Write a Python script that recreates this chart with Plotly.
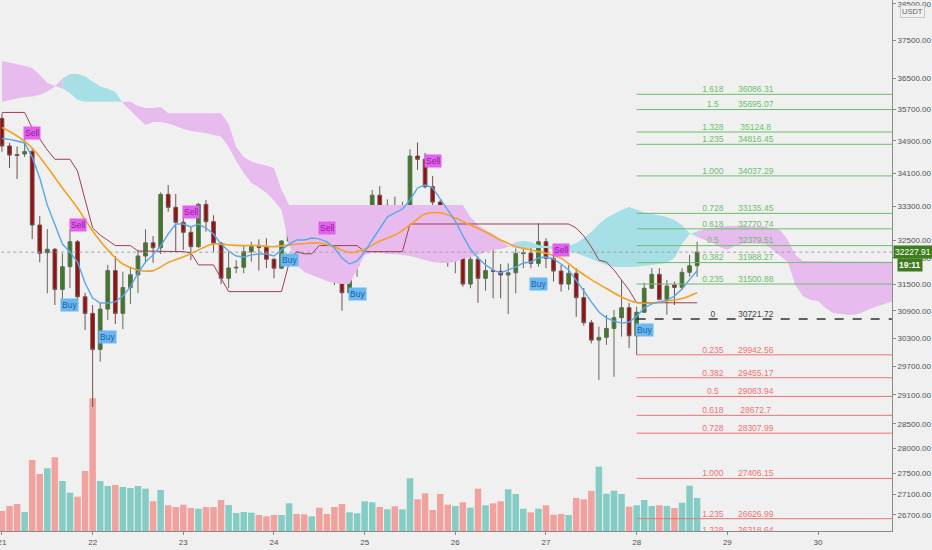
import numpy as np
import pandas as pd
import plotly.graph_objects as go

# 2h candles, 21 Jun 00:00 -> 28 Jun 16:00
open_ = [35470, 34775, 34560, 34575, 34635, 32860, 32215, 32295, 31380, 31895,
         32470, 31215, 30845, 30060, 30940, 31805, 30845, 31420, 31710, 32140,
         32445, 32330, 33590, 33280, 32925, 32690, 32355, 33350, 32940, 32435,
         31630, 31865, 31880, 32240, 32355, 32340, 32065, 31860, 32485, 32860,
         32785, 32625, 32835, 32215, 31950, 31840, 31305, 31915, 32255, 32870,
         33570, 33310, 33325, 32960, 33170, 34525, 34445, 33775, 33405, 32705,
         32240, 32760, 31500, 32065, 31630, 31805, 31790, 31705, 31755, 32195,
         32210, 31970, 32470, 32085, 31795, 31500, 31745, 31195, 30640, 30260,
         30320, 30515, 30750, 30970, 30355, 30870, 31405, 31720, 31155, 31480,
         31425, 31765, 31915]
high_ = [35600, 34850, 34760, 35010, 34725, 33075, 32765, 32325, 32200, 32745,
         32510, 31300, 31030, 31075, 31935, 32140, 31780, 31895, 32280, 32760,
         32605, 33640, 33815, 33600, 33095, 32820, 33385, 33455, 33095, 32465,
         32240, 32045, 32395, 32470, 32525, 32550, 32095, 32510, 32980, 33055,
         33020, 33020, 32910, 32435, 32085, 31970, 32125, 32355, 32900, 33695,
         33790, 33470, 33535, 33415, 34690, 34865, 34600, 34035, 33455, 32820,
         32820, 32790, 32315, 32125, 32065, 32435, 31955, 31970, 32315, 32415,
         32355, 32900, 32550, 32200, 31935, 31935, 31860, 31410, 30700, 30555,
         30810, 30920, 31590, 31075, 30995, 31530, 31860, 31860, 31590, 31555,
         31860, 32165, 32470]
low_ = [34630, 34230, 33960, 34500, 32530, 31995, 31290, 31030, 31140, 31410,
        31140, 30480, 28845, 29795, 30700, 30610, 30500, 31055, 31300, 32000,
        31985, 32185, 33175, 32240, 32280, 32045, 32325, 32705, 32240, 31500,
        31410, 31745, 31745, 32010, 31805, 31860, 31630, 31840, 32440, 32695,
        32550, 32580, 32085, 31895, 31480, 30905, 31290, 31665, 32230, 32760,
        33175, 33020, 32785, 32725, 33055, 34180, 33735, 33335, 32165, 31895,
        31745, 31440, 31405, 31080, 31350, 31180, 31180, 30830, 31290, 31860,
        31860, 31895, 31860, 31555, 31330, 31365, 30770, 30575, 30190, 29405,
        30155, 29475, 30335, 30085, 29940, 30860, 31390, 31140, 30810, 31030,
        31365, 31665, 31665]
close_ = [34775, 34550, 34540, 34635, 32860, 32200, 32295, 31380, 31895, 32470,
          31215, 30845, 30060, 30940, 31805, 30845, 31420, 31710, 32140, 32445,
          32330, 33590, 33280, 32925, 32690, 32355, 33350, 32940, 32435, 31630,
          31865, 31880, 32240, 32355, 32340, 32065, 31860, 32485, 32860, 32785,
          32625, 32835, 32215, 31950, 31840, 31305, 31915, 32255, 32870, 33570,
          33310, 33325, 32960, 33170, 34525, 34445, 33775, 33405, 32705, 32240,
          32760, 31500, 32065, 31630, 31805, 31790, 31705, 31755, 32195, 32210,
          31970, 32470, 32085, 31795, 31500, 31745, 31195, 30640, 30260, 30320,
          30515, 30750, 30970, 30355, 30870, 31405, 31720, 31155, 31455, 31425,
          31765, 31915, 32227.91]
volume = [2000, 2500, 2700, 1900, 7100, 5700, 6270, 7370, 5000, 3830,
          3430, 6000, 13270, 5000, 4500, 4600, 4400, 4300, 4500, 4230,
          2970, 4100, 2570, 2400, 2630, 2300, 2230, 2400, 2400, 3100,
          2600, 1800, 1900, 1830, 1600, 1470, 1600, 1600, 2770, 1700,
          1670, 1470, 2330, 1700, 2400, 2700, 1870, 1770, 2970, 2870,
          2400, 2170, 2470, 2170, 5270, 3170, 3770, 2100, 3700, 2630,
          2500, 2870, 2330, 4230, 2570, 2770, 2970, 4170, 3700, 2230,
          1870, 2230, 2570, 1630, 1700, 1600, 3300, 3170, 4000, 6430,
          3730, 4030, 3700, 2430, 2570, 3100, 2500, 2570, 2500, 2300,
          2830, 4530, 3300]

# fast average (blue), one value per bar
fast_ma = [34960, 34940, 34900, 34850, 34500, 33985, 33335, 32860, 32415, 32230,
           32000, 31525, 31185, 31075, 31075, 31100, 31230, 31435, 31750, 32000,
           32165, 32370, 32650, 32885, 32885, 32815, 32885, 32790, 32650, 32415,
           32255, 32140, 32115, 32165, 32185, 32185, 32140, 32280, 32415, 32510,
           32510, 32555, 32535, 32465, 32325, 32095, 31955, 32025, 32230, 32510,
           32790, 33050, 33145, 33240, 33455, 33745, 33815, 33745, 33480, 33215,
           32955, 32605, 32300, 32095, 31935, 31820, 31750, 31820, 31885, 31980,
           32000, 32095, 32115, 32070, 31955, 31820, 31590, 31345, 31100, 30875,
           30745, 30675, 30630, 30655, 30785, 30965, 31055, 31100, 31140, 31230,
           31390, 31600, 31800]

# slow average (orange), read every second bar
slow_bar = list(range(0, 93, 2))
slow_ma = [35240, 35025, 34725, 34255, 33745, 33265, 32720, 32280, 31955, 31820,
           31805, 31990, 32115, 32280, 32415, 32395, 32380, 32380, 32355, 32395,
           32430, 32440, 32350, 32220, 32300, 32485, 32625, 32860, 33120, 33150,
           33025, 32860, 32695, 32510, 32360, 32280, 32200, 32085, 31830, 31600,
           31400, 31210, 31085, 31075, 31120, 31175, 31305]

# base line (dark red), bars where it turns
kijun_bar = [0, 3, 4, 6, 7, 9, 10, 12, 13, 14, 15, 17, 18, 24, 25, 26, 28, 30, 37, 38,
             39, 40, 41, 42, 47, 48, 53, 54, 75, 76, 77, 78, 79, 80, 81, 82, 83, 84, 92]
kijun_val = [35620, 35620, 35225, 34675, 34445, 34445, 34155, 32790, 32625, 32510,
             32380, 32380, 32255, 32240, 32210, 31935, 31935, 31330, 31330, 31980,
             32240, 32190, 32190, 32380, 32380, 32240, 32240, 32885, 32885, 32790,
             32605, 32350, 32045, 32000, 31820, 31590, 31365, 31080, 31080]

# cloud spans, shifted 26 bars forward
span_a = [35895, 35939, 35991, 36017, 36030, 36069, 36159, 36289, 36497, 36615,
          36615, 36550, 36419, 36289, 36237, 36146, 35862, 35658, 35479, 35302,
          35377, 35377, 35339, 35276, 35200, 35150, 35125, 35100, 35050, 35012,
          34750, 34403, 34109, 33864, 33756, 33623, 33443, 33216, 32394, 31933,
          31773, 31705, 31636, 31568, 31523, 31501, 31501, 31819, 32163, 32209,
          32209, 32186, 32186, 32163, 32139, 32093, 32047, 32001, 31978, 31978,
          32001, 32070, 32116, 32163, 32232, 32278, 32301, 32348, 32464, 32487,
          32464, 32394, 32371, 32371, 32417, 32371, 32440, 32556, 32696, 32885,
          33026, 33121, 33216, 33288, 33216, 33157, 33121, 33086, 33050, 32979,
          32861, 32673, 32580, 32510, 32440, 32348, 32278, 32371, 32417, 32429,
          32429, 32417, 32278, 32139, 32001, 31478, 31232, 31142, 31120, 30964,
          30854, 30832, 30810, 30821, 30876, 30953, 31009, 31075, 31120]
span_b = [36958, 36918, 36878, 36826, 36773, 36589, 36380, 36302, 36237, 36120,
          35939, 35895, 35895, 35895, 35895, 35895, 35895, 35895, 35785, 35734,
          35734, 35760, 35599, 35599, 35599, 35599, 35599, 35599, 35599, 35599,
          35327, 34750, 34502, 34390, 34329, 34292, 34231, 33695, 33335, 33335,
          33335, 33335, 33335, 33335, 33335, 33335, 33335, 33335, 33335, 33335,
          33335, 33335, 33335, 33335, 33335, 33335, 33335, 33335, 33335, 33335,
          33335, 33335, 33050, 32861, 32743, 32650, 32510, 32371, 32324, 32324,
          32324, 32324, 32324, 32301, 32278, 32255, 32209, 32139, 32070, 32001,
          31933, 31887, 31887, 31887, 31894, 31910, 31933, 31955, 31978, 32093,
          32417, 32650, 32708, 32766, 32790, 32814, 32837, 32837, 32837, 32837,
          32826, 32821, 32790, 32743, 32510, 32163, 32024, 32008, 32008, 32008,
          32008, 32008, 32008, 32008, 32008, 32008, 32008, 32008, 32008]

sell_bars = [4, 10, 25, 43, 57, 74]
buy_bars = [9, 14, 38, 47, 71, 85]

fib_up_ratio = ["1.618", "1.5", "1.328", "1.235", "1.000", "0.728", "0.618", "0.5", "0.382", "0.235"]
fib_up_price = [36086.31, 35695.07, 35124.8, 34816.45, 34037.29, 33135.45, 32770.74, 32379.51, 31988.27, 31500.88]
fib_zero = 30721.72
fib_dn_ratio = ["0.235", "0.382", "0.5", "0.618", "0.728", "1.000", "1.235", "1.328"]
fib_dn_price = [29942.56, 29455.17, 29063.94, 28672.7, 28307.99, 27406.15, 26626.99, 26318.64]

last_price = 32227.91
price_ticks = [38500, 37500, 36500, 35700, 34900, 34100, 33300, 32500, 32100, 31500,
               30900, 30300, 29700, 29100, 28500, 28000, 27500, 27100, 26700]

times = pd.date_range("2021-06-21 00:00", periods=len(close_), freq="2h")
cloud_times = pd.date_range("2021-06-21 00:00", periods=len(span_a), freq="2h")
fib_start, fib_end = pd.Timestamp("2021-06-28 00:00"), pd.Timestamp("2021-07-01 00:00")
ratio_x, price_x = pd.Timestamp("2021-06-28 20:10"), pd.Timestamp("2021-06-29 07:30")

BG = '#f0f0f0'
PINK, CYAN = '#e8bbef', '#a7dfe7'
GREEN_FIB, RED_FIB = '#6cbf6c', '#f07272'
FONT = 'Liberation Sans'

fig = go.Figure()

# volume sits on the hidden base axis so it is drawn behind the price pane
vol_cols = ['#84ccc4' if c >= o else '#f0a29e' for o, c in zip(open_, close_)]
fig.add_trace(go.Bar(x=times, y=volume, marker_color=vol_cols, marker_line_width=0,
                     width=7200000 * 0.86, yaxis='y', hoverinfo='skip'))

# cloud: one filled polygon per run of same-sign spans
a, b = np.array(span_a), np.array(span_b)
bull = a >= b
start = 0
n = len(a)
for k in range(1, n + 1):
    if k == n or bull[k] != bull[start]:
        end = min(k, n - 1)
        xs = list(cloud_times[start:end + 1]) + list(cloud_times[start:end + 1][::-1])
        ys = list(a[start:end + 1]) + list(b[start:end + 1][::-1])
        fig.add_trace(go.Scatter(x=xs, y=ys, yaxis='y2', mode='lines', fill='toself',
                                 fillcolor=CYAN if bull[start] else PINK,
                                 line=dict(width=0), hoverinfo='skip'))
        start = k

# fib levels
def level_lines(prices, color, dash='solid', width=1):
    xs, ys = [], []
    for p in prices:
        xs += [fib_start, fib_end, None]
        ys += [p, p, None]
    fig.add_trace(go.Scatter(x=xs, y=ys, yaxis='y2', mode='lines',
                             line=dict(color=color, width=width, dash=dash), hoverinfo='skip'))

def level_text(ratios, prices, color):
    fig.add_trace(go.Scatter(x=[ratio_x] * len(prices), y=prices, yaxis='y2', mode='text',
                             text=ratios, textposition='top center',
                             textfont=dict(color=color, size=8.5, family=FONT), hoverinfo='skip'))
    fig.add_trace(go.Scatter(x=[price_x] * len(prices), y=prices, yaxis='y2', mode='text',
                             text=[str(p) for p in prices], textposition='top center',
                             textfont=dict(color=color, size=8.5, family=FONT), hoverinfo='skip'))

level_lines(fib_up_price, GREEN_FIB)
level_lines(fib_dn_price, RED_FIB)
level_lines([fib_zero], '#333333', dash='dash', width=1.5)
level_text(fib_up_ratio, fib_up_price, GREEN_FIB)
level_text(fib_dn_ratio, fib_dn_price, RED_FIB)
level_text(["0"], [fib_zero], '#444444')

# last price dotted line
fig.add_trace(go.Scatter(x=[pd.Timestamp("2021-06-20"), pd.Timestamp("2021-07-01")],
                         y=[last_price, last_price], yaxis='y2', mode='lines',
                         line=dict(color='#a0a0a0', width=1, dash='dot'), hoverinfo='skip'))

# candles
fig.add_trace(go.Candlestick(x=times, open=open_, high=high_, low=low_, close=close_, yaxis='y2',
                             increasing=dict(fillcolor='#3d7b22', line=dict(color='#5f6b57', width=1)),
                             decreasing=dict(fillcolor='#990f0f', line=dict(color='#6e5050', width=1)),
                             whiskerwidth=0, hoverinfo='skip'))

# indicator lines
fig.add_trace(go.Scatter(x=times[kijun_bar], y=kijun_val, yaxis='y2', mode='lines',
                         line=dict(color='#9e3f52', width=1), hoverinfo='skip'))
fig.add_trace(go.Scatter(x=times[slow_bar], y=slow_ma, yaxis='y2', mode='lines',
                         line=dict(color='#f5a024', width=1.6, shape='spline'), hoverinfo='skip'))
fig.add_trace(go.Scatter(x=times, y=fast_ma, yaxis='y2', mode='lines',
                         line=dict(color='#58a8e8', width=1.4), hoverinfo='skip'))

# buy / sell labels
for i in sell_bars:
    fig.add_annotation(x=times[i], y=np.log10(high_[i]), xref='x', yref='y2', text='Sell',
                       showarrow=False, yshift=15, bgcolor='#e35ff0', borderpad=1,
                       font=dict(color='#8a1f95', size=8.5, family=FONT))
for i in buy_bars:
    fig.add_annotation(x=times[i], y=np.log10(low_[i]), xref='x', yref='y2', text='Buy',
                       showarrow=False, yshift=-17, bgcolor='#6ab8f2', borderpad=1,
                       font=dict(color='#1d5f9e', size=8.5, family=FONT))

# right-hand tags
fig.add_annotation(x=1.0, xref='paper', xanchor='left', xshift=1, y=np.log10(last_price), yref='y2',
                   text='32227.91', showarrow=False, bgcolor='#3e7d1d', borderpad=1,
                   font=dict(color='white', size=8.5, family=FONT))
fig.add_annotation(x=1.0, xref='paper', xanchor='left', xshift=5, y=np.log10(last_price), yref='y2',
                   yshift=-13, text='<b>19:11</b>', showarrow=False, bgcolor='#3e7d1d', borderpad=1,
                   font=dict(color='white', size=8.5, family=FONT))
fig.add_annotation(x=1.0, xref='paper', xanchor='left', xshift=8, y=1, yref='paper', yanchor='top',
                   yshift=-5, text='USDT', showarrow=False, bgcolor=BG, bordercolor='#c8c8c8',
                   borderwidth=1, borderpad=1, font=dict(color='#666666', size=7.5, family=FONT))

fig.update_layout(
    width=932, height=550, margin=dict(l=0, r=40, t=0, b=19),
    paper_bgcolor=BG, plot_bgcolor=BG, showlegend=False,
    font=dict(family=FONT, size=8, color='#505050'),
    xaxis=dict(type='date', range=["2021-06-20 23:28:43", "2021-06-30 19:35:20"],
               rangeslider=dict(visible=False), showgrid=False, zeroline=False,
               tickvals=pd.date_range("2021-06-21", "2021-06-30", freq="D"), tickformat='%d',
               ticks='outside', ticklen=3, tickcolor='#8a8a8a', ticklabeloverflow='allow',
               showline=True, linecolor='#8a8a8a', linewidth=1, automargin=False),
    yaxis=dict(range=[0, 53100], visible=False, showgrid=False, fixedrange=True),
    yaxis2=dict(type='log', overlaying='y', side='right',
                range=[np.log10(26393), np.log10(38608)],
                tickvals=price_ticks, ticktext=[f'{v:.2f}' for v in price_ticks],
                ticks='outside', ticklen=3, tickcolor='#8a8a8a', ticklabeloverflow='allow',
                showgrid=False, zeroline=False,
                showline=True, linecolor='#8a8a8a', linewidth=1, automargin=False),
)

# page margin off so the 932x550 figure fills the window exactly
fig.write_html("out.html", config={'displayModeBar': False},
               post_script="document.body.style.margin='0';")
